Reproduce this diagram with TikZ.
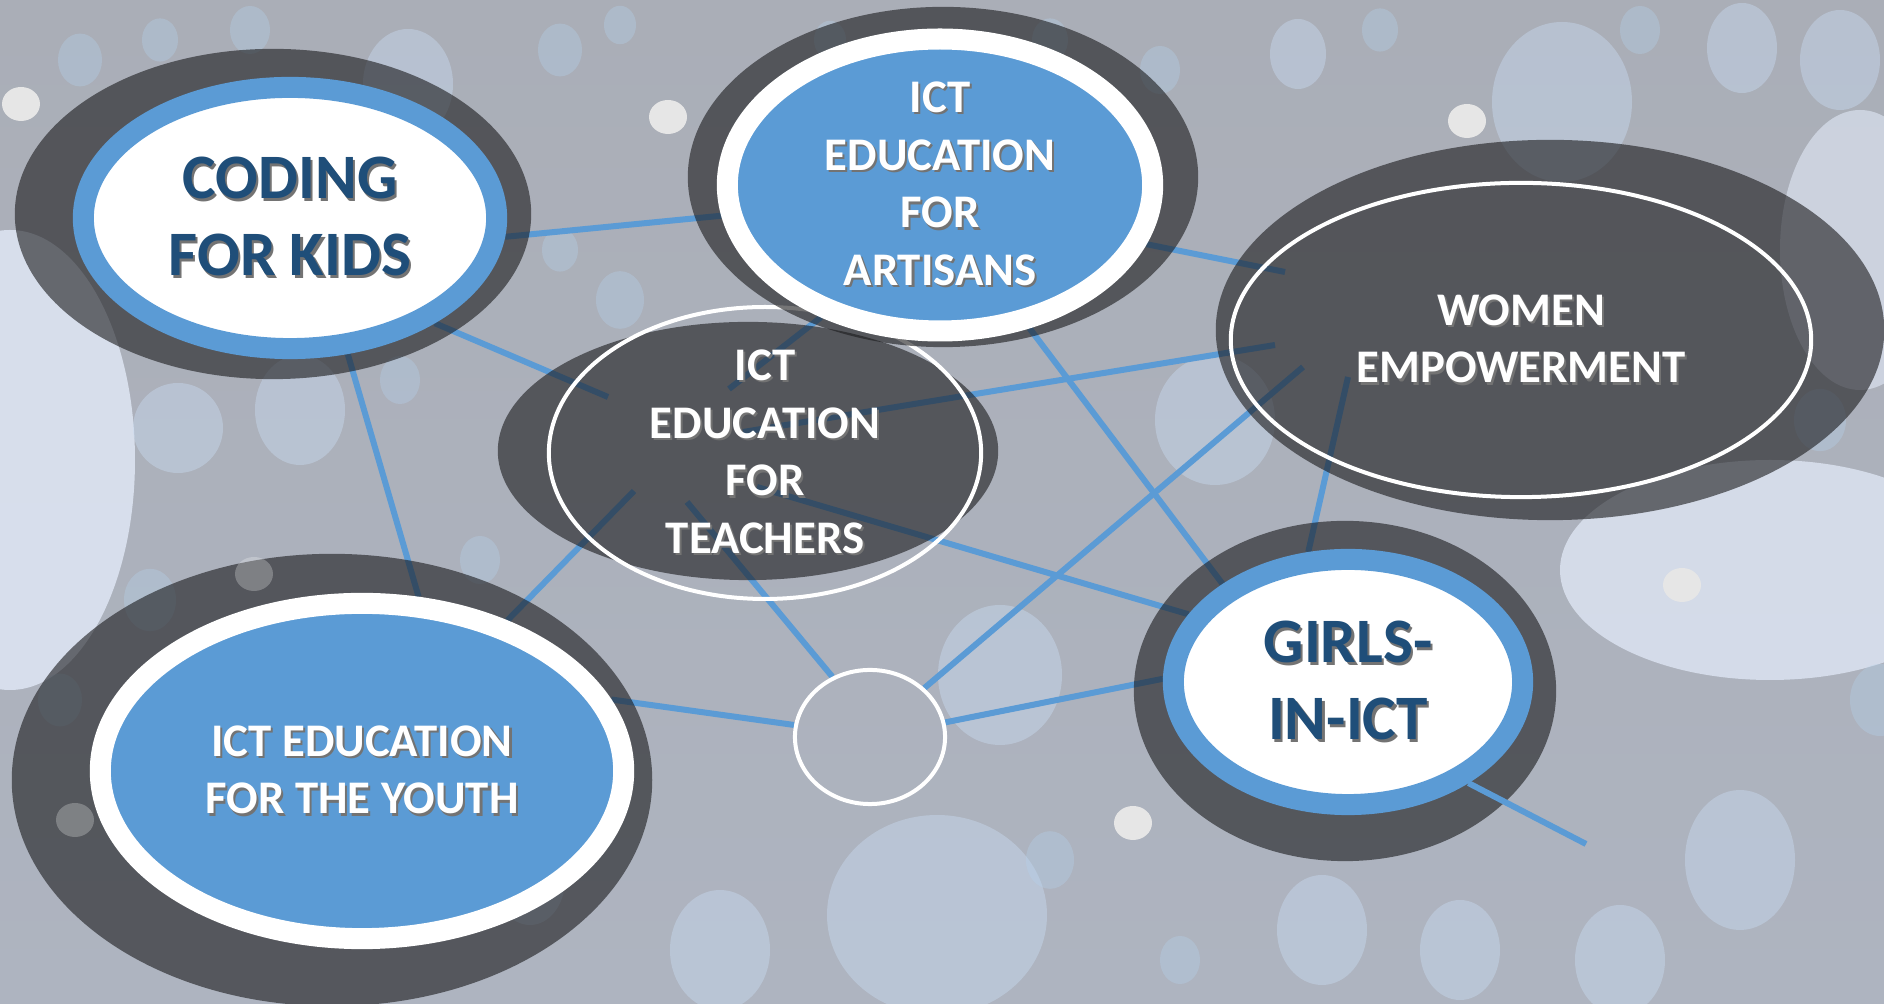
\documentclass[tikz,border=0pt]{standalone}
\usepackage{fontspec}
\setmainfont{Carlito}
\usetikzlibrary{shapes.geometric}
\usetikzlibrary{calc}
\definecolor{ictblue}{RGB}{91,155,213}
\definecolor{navy}{RGB}{31,78,121}
\definecolor{shade}{RGB}{26,26,28}
\definecolor{dot}{RGB}{230,230,230}
\definecolor{haze}{RGB}{200,218,240}
\definecolor{glow}{RGB}{226,234,248}
\definecolor{bgtop}{RGB}{170,174,183}
\definecolor{bgmid}{RGB}{154,150,154}
\definecolor{bgbot}{RGB}{174,180,192}
\newcommand{\shd}[1]{\leavevmode\rlap{\kern0.6pt\raisebox{-0.7pt}{\color{black!55}#1}}#1}
\newcommand{\bigsize}{\fontsize{18}{22}\selectfont\bfseries}
\newcommand{\smallsize}{\fontsize{13.3}{16.4}\selectfont\bfseries}
\pgfdeclarelayer{back}
\pgfdeclarelayer{wires}
\pgfsetlayers{back,wires,main}
\tikzset{
  radii/.style 2 args={minimum width=#1*0.02cm, minimum height=#2*0.02cm},
  hole/.style={ellipse, inner sep=0, fill=shade, fill opacity=0.6},
  disc/.style={ellipse, inner sep=0, align=center, line width=0.21cm},
  ring/.style={ellipse, inner sep=0, align=center, draw=white, line width=0.04cm},
  link/.style={ictblue, line width=0.06cm},
  spot/.style={fill=dot},
  bokeh/.style={fill=haze, fill opacity=0.45},
  speck/.style={fill=ictblue!45!white, fill opacity=0.35},
}

\begin{document}
\begin{tikzpicture}[x=0.01cm, y=-0.01cm]
  \useasboundingbox (0,0) rectangle (1884,1004);
  \begin{pgfonlayer}{back}
    \shade[top color=bgtop, middle color=bgmid, bottom color=bgbot] (0,0) rectangle (1884,1004);
    \fill[glow, fill opacity=0.8] (10,460) ellipse [x radius=125, y radius=230];
    \fill[glow, fill opacity=0.75] (1770,570) ellipse [x radius=210, y radius=110];
    \fill[glow, fill opacity=0.6] (1860,250) ellipse [x radius=80, y radius=140];
    \foreach \x/\y/\rx/\ry in {937/915/110/100,
        1000/675/62/70, 1562/102/70/80, 408/84/45/55, 300/410/45/55, 1322/930/45/55,
        1740/860/55/70, 1840/60/40/50, 1742/48/35/45, 1298/54/28/35, 1215/420/60/65,
        530/880/35/45, 1460/950/40/50, 1620/960/45/55, 720/950/50/60, 178/428/45/45}
      \fill[bokeh] (\x,\y) ellipse [x radius=\rx, y radius=\ry];
    \foreach \x/\y/\r in {80/60/22, 160/40/18, 250/30/20, 560/50/22, 620/25/16, 1050/40/18,
        1160/70/20, 1380/30/18, 1640/30/20, 620/300/24, 560/250/18, 150/600/26,
        60/700/22, 1050/860/24, 1180/960/20, 1880/700/30, 1820/420/26, 1120/200/22,
        830/40/16, 480/560/20, 400/380/20}
      \fill[speck] (\x,\y) ellipse [x radius=\r, y radius=1.2*\r];
  \end{pgfonlayer}

  \node [hole, radii={258}{165}] (ck-h) at (273,214) {};
  \node [disc, radii={206.5}{130.5}, fill=white, draw=ictblue, text=navy, font=\bigsize] (ck) at (290,218)
    {\shd{CODING}\\\shd{FOR KIDS}};

  \node [hole, radii={250}{129}] (te-h) at (748,451) {};
  \node [ring, radii={216}{106.5}, text=white, font=\smallsize] (te) at (765,453)
    {\shd{ICT}\\\shd{EDUCATION}\\\shd{FOR}\\\shd{TEACHERS}};

  \node [hole, radii={255}{170}] (ar-h) at (943,177) {};
  \node [disc, radii={212.5}{133.5}, fill=ictblue, draw=white, text=white, font=\smallsize] (ar) at (940,185)
    {\shd{ICT}\\\shd{EDUCATION}\\\shd{FOR}\\\shd{ARTISANS}};

  \node [hole, radii={334}{190}] (we-h) at (1550,330) {};
  \node [ring, radii={290}{157}, text=white, font=\smallsize] (we) at (1521,340)
    {\shd{WOMEN}\\\shd{EMPOWERMENT}};

  \node [hole, radii={320}{226}] (yo-h) at (332,780) {};
  \node [disc, radii={261.5}{167.5}, fill=ictblue, draw=white, text=white, font=\smallsize] (yo) at (362,771)
    {\shd{ICT EDUCATION}\\\shd{FOR THE YOUTH}};

  \node [hole, radii={211}{170}] (gi-h) at (1345,691) {};
  \node [disc, radii={174.5}{122.5}, fill=white, draw=ictblue, text=navy, font=\bigsize] (gi) at (1348,682)
    {\shd{GIRLS-}\\\shd{IN-ICT}};

  \node [ring, radii={75}{67}] (hu) at (870,737) {};

  \foreach \x/\y in {21/104, 668/117, 1467/121, 1133/823, 1682/585}
    \fill[spot] (\x,\y) ellipse [x radius=19, y radius=17];
  \foreach \x/\y in {75/820, 254/574}
    \fill[white, fill opacity=0.25] (\x,\y) ellipse [x radius=19, y radius=17];

  \begin{pgfonlayer}{wires}
    \draw [link] (ck.-5) -- (ar.188);
    \draw [link] (ck.-36) -- ($(te)+(-157,-56)$);
    \draw [link] (ck.-67) -- (yo.72);
    \draw [link] (ar.228) -- ($(te)+(-36,-64)$);
    \draw [link] (ar.-16) -- ($(we)+(-236,-68)$);
    \draw [link] (ar.-58) -- (gi.142);
    \draw [link] ($(te)+(-22,-21)$) -- ($(we)+(-246,5)$);
    \draw [link] ($(te)+(-8,34)$) -- (gi.157);
    \draw [link] ($(te)+(-131,38)$) -- (yo.46);
    \draw [link] ($(te)+(-78,49)$) -- (hu.122);
    \draw [link] (yo.16) -- (hu.171);
    \draw [link] (hu.42) -- ($(we)+(-218,27)$);
    \draw [link] (hu.11) -- (gi.179);
    \draw [link] (gi.107) -- ($(we)+(-173,37)$);
  \end{pgfonlayer}

  \coordinate (tail) at (1586,844);
  \draw [link] (gi.-40) -- (tail);
\end{tikzpicture}
\end{document}
